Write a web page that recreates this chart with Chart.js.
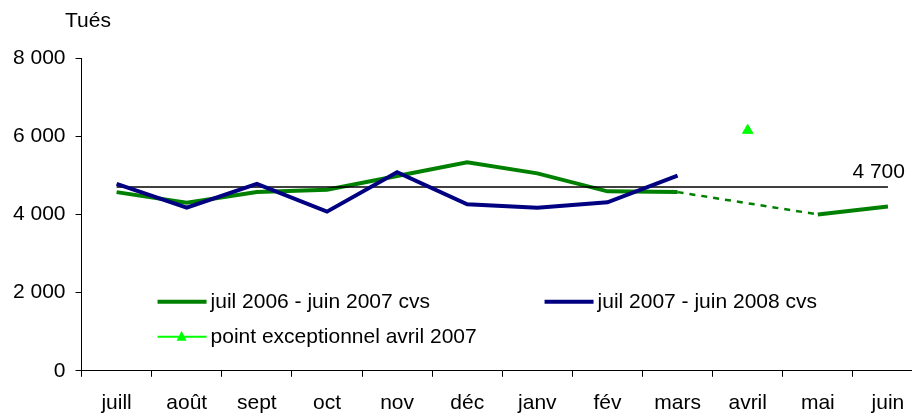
<!DOCTYPE html>
<html>
<head>
<meta charset="utf-8">
<script src="https://cdn.jsdelivr.net/npm/chart.js@4/dist/chart.umd.min.js"></script>
<style>
    body { margin: 0; overflow: hidden; background: #fff; }
    #wrap { width: 930px; height: 430px; }
</style>
</head>
<body>
<div id="wrap"><canvas id="chart"></canvas></div>
<script>
// months on the x axis
const months = ['juill', 'août', 'sept', 'oct', 'nov', 'déc', 'janv', 'fév', 'mars', 'avril', 'mai', 'juin'];

// killed per month (seasonally adjusted)
const serie2006 = [4570, 4300, 4570, 4630, 4980, 5330, 5050, 4590, 4570, null, 4000, 4200];
const serie2007 = [4780, 4170, 4780, 4070, 5080, 4260, 4170, 4310, 4990, null, null, null];
const exceptionnel = [null, null, null, null, null, null, null, null, null, 6150, null, null];
const moyenne = [4700, 4700, 4700, 4700, 4700, 4700, 4700, 4700, 4700, 4700, 4700, 4700];
const moyenneLabel = '4 700';

const yTicks = [0, 2000, 4000, 6000, 8000];
const yTitle = 'Tués';

const labels2006 = 'juil 2006 - juin 2007 cvs';
const labels2007 = 'juil 2007 - juin 2008 cvs';
const labelsExc = 'point exceptionnel avril 2007';

const FONT = '"Liberation Sans", Arial, sans-serif';
const SIZE = 21;

function fmt(v) {
    return String(v).replace(/\B(?=(\d{3})+(?!\d))/g, ' ');
}

// legend, "Tués" and the 4 700 label drawn on top of the chart
const extrasPlugin = {
    id: 'extras',
    afterDraw(chart) {
        const ctx = chart.ctx;
        const area = chart.chartArea;
        const x = chart.scales.x;
        const y = chart.scales.y;
        ctx.save();
        ctx.font = SIZE + 'px ' + FONT;
        ctx.fillStyle = '#000';
        ctx.textBaseline = 'middle';

        // axis title
        ctx.textAlign = 'left';
        ctx.fillText(yTitle, 65, 21);

        // average label
        ctx.textAlign = 'right';
        ctx.fillText(moyenneLabel, x.getPixelForValue(11) + 17, y.getPixelForValue(4700) - 15);

        // legend
        ctx.textAlign = 'left';
        const items = [
            { x: area.left + 76, y: area.bottom - 69, color: '#008000', width: 4, text: labels2006 },
            { x: area.left + 463, y: area.bottom - 69, color: '#000080', width: 4, text: labels2007 },
            { x: area.left + 76, y: area.bottom - 34, color: '#00ff00', width: 2, text: labelsExc, marker: true }
        ];
        items.forEach(function (it) {
            ctx.strokeStyle = it.color;
            ctx.lineWidth = it.width;
            ctx.beginPath();
            ctx.moveTo(it.x, it.y);
            ctx.lineTo(it.x + 49, it.y);
            ctx.stroke();
            if (it.marker) {
                ctx.fillStyle = it.color;
                ctx.beginPath();
                ctx.moveTo(it.x + 24, it.y - 6);
                ctx.lineTo(it.x + 29, it.y + 4);
                ctx.lineTo(it.x + 19, it.y + 4);
                ctx.closePath();
                ctx.fill();
            }
            ctx.fillStyle = '#000';
            ctx.fillText(it.text, it.x + 53, it.y);
        });
        ctx.restore();
    }
};

document.addEventListener('DOMContentLoaded', function () {
    const dashedGap = (ctx, value) => (ctx.p0.skip || ctx.p1.skip) ? value : undefined;

    new Chart(document.getElementById('chart'), {
        type: 'line',
        data: {
            labels: months,
            datasets: [
                {
                    label: labelsExc,
                    data: exceptionnel,
                    showLine: false,
                    pointStyle: 'triangle',
                    pointRadius: 6,
                    pointBackgroundColor: '#00ff00',
                    pointBorderColor: '#00ff00',
                    borderColor: '#00ff00',
                    order: 0
                },
                {
                    label: labels2007,
                    data: serie2007,
                    borderColor: '#000080',
                    borderWidth: 4,
                    pointRadius: 0,
                    spanGaps: false,
                    order: 1
                },
                {
                    label: 'moyenne',
                    data: moyenne,
                    borderColor: '#000',
                    borderWidth: 1.5,
                    pointRadius: 0,
                    order: 2
                },
                {
                    label: labels2006,
                    data: serie2006,
                    borderColor: '#008000',
                    borderWidth: 4,
                    pointRadius: 0,
                    spanGaps: true,
                    segment: {
                        borderDash: ctx => dashedGap(ctx, [6, 6]),
                        borderWidth: ctx => dashedGap(ctx, 2.5)
                    },
                    order: 3
                }
            ]
        },
        options: {
            responsive: true,
            maintainAspectRatio: false,
            animation: false,
            layout: { padding: { top: 58, left: 3, right: 0, bottom: 0 } },
            plugins: {
                legend: { display: false },
                tooltip: { enabled: false }
            },
            scales: {
                x: {
                    offset: true,
                    grid: { offset: true, drawOnChartArea: false, tickLength: 6, color: '#000' },
                    border: { color: '#000', width: 1 },
                    ticks: { color: '#000', padding: 14, font: { family: FONT, size: SIZE }, maxRotation: 0, autoSkip: false }
                },
                y: {
                    min: 0,
                    max: 8000,
                    afterBuildTicks: scale => { scale.ticks = yTicks.map(v => ({ value: v })); },
                    grid: { drawOnChartArea: false, tickLength: 6, color: '#000' },
                    border: { color: '#000', width: 1 },
                    ticks: { color: '#000', padding: 10, font: { family: FONT, size: SIZE }, callback: v => fmt(v) }
                }
            }
        },
        plugins: [extrasPlugin]
    });
});
</script>
</body>
</html>
